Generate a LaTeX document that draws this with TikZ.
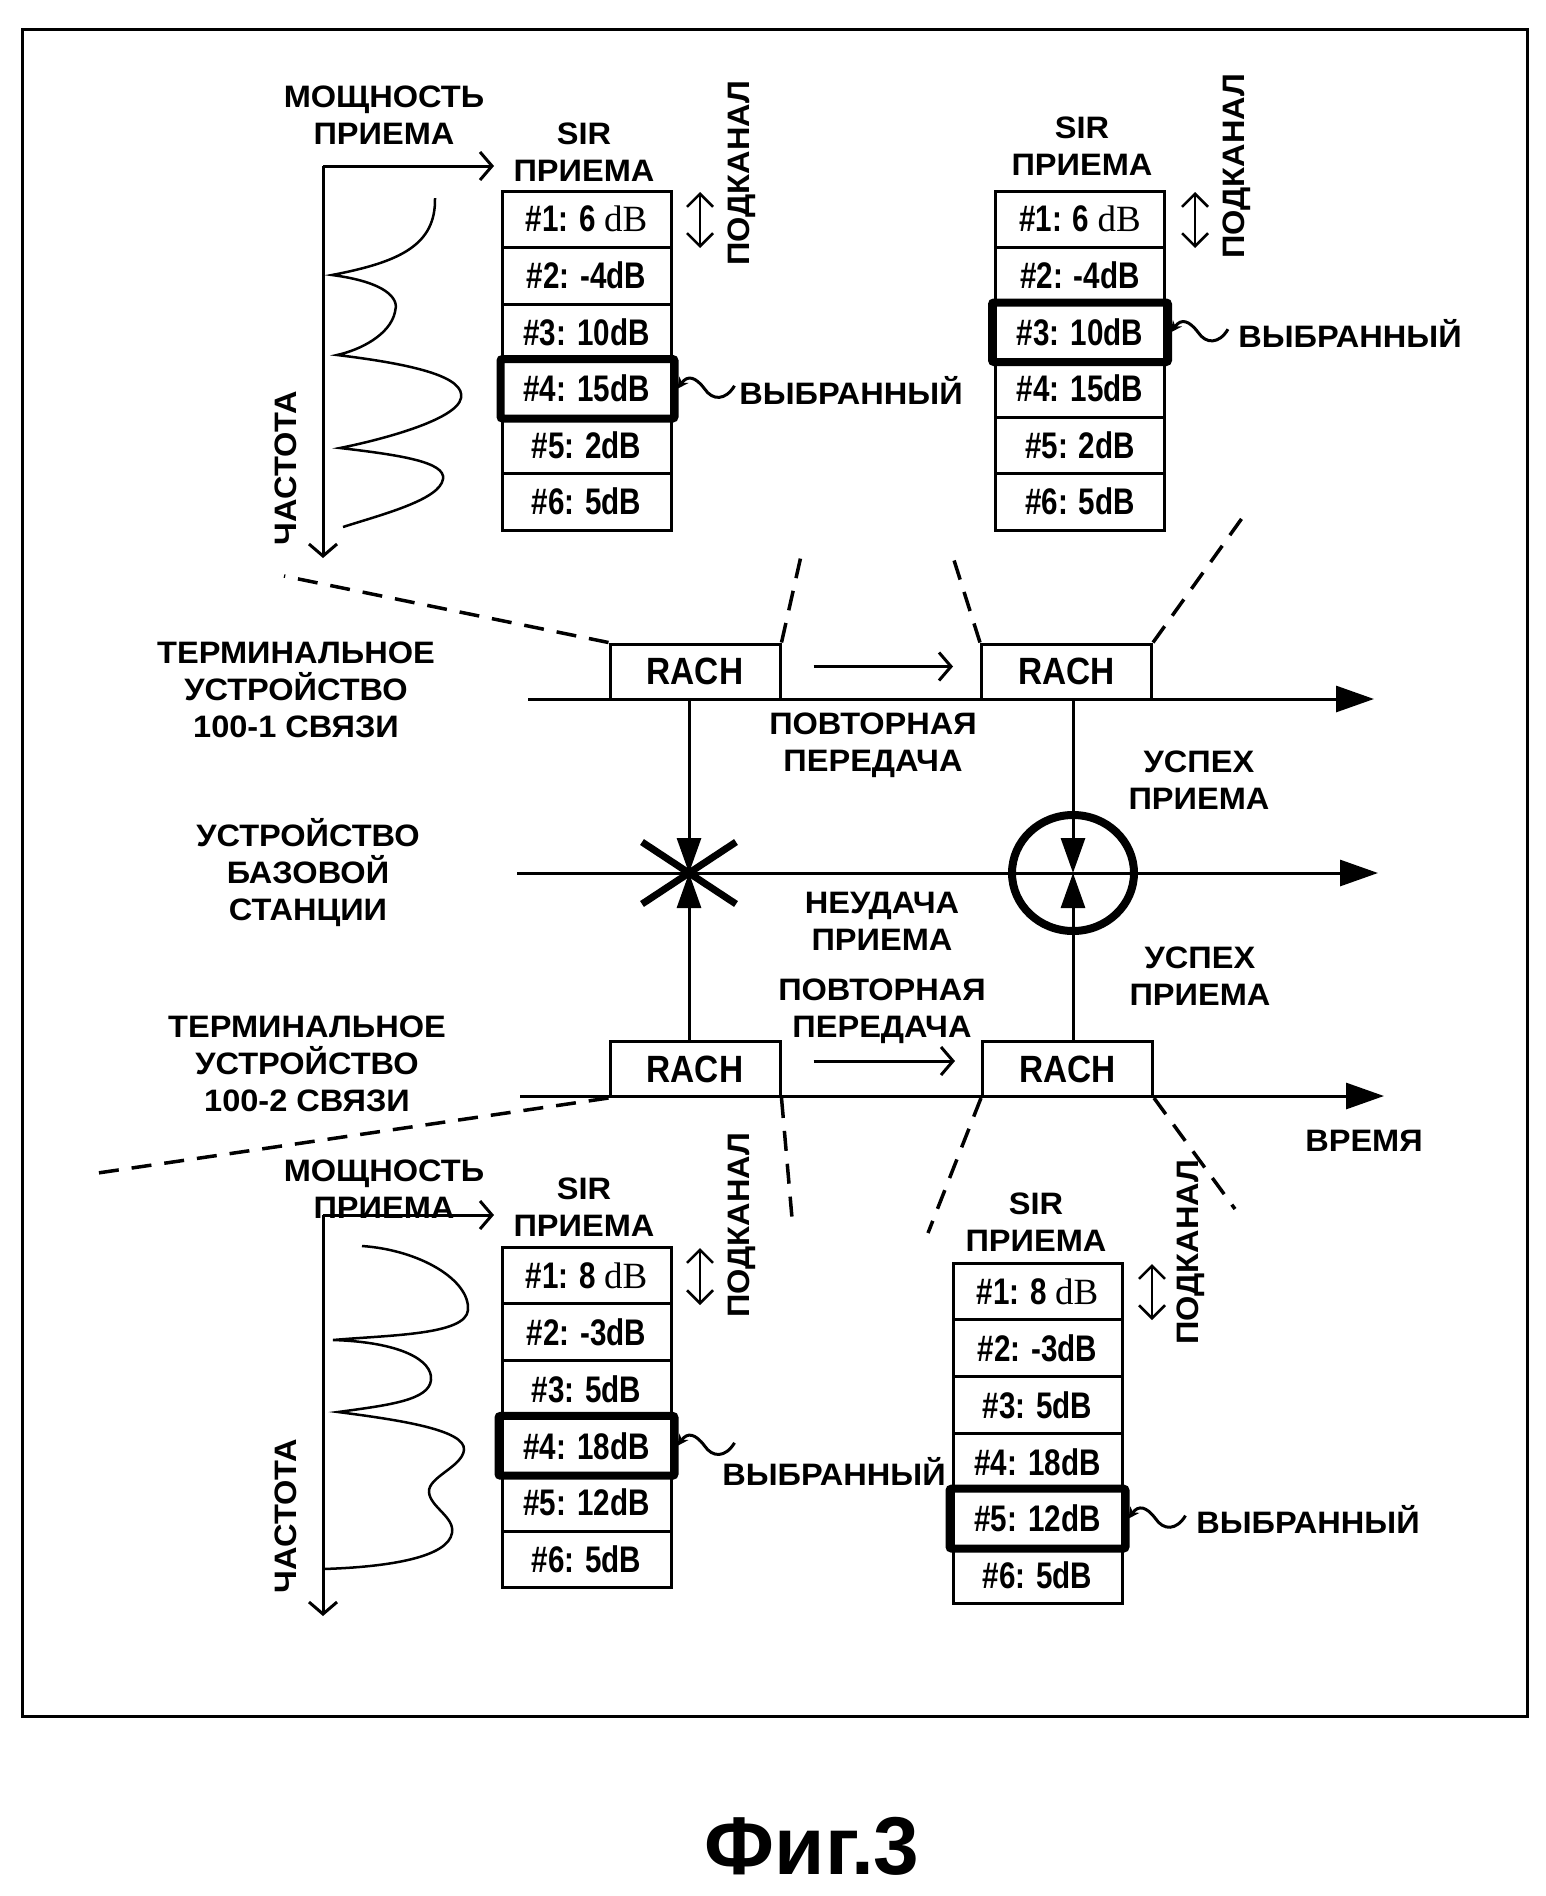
\documentclass[tikz,border=0pt]{standalone}
\usepackage{fontspec}
\setmainfont{Liberation Sans}
\newfontfamily\lblfam[FakeStretch=1.05]{Liberation Sans}
\newfontfamily\rowfam[FakeStretch=0.8]{Liberation Sans}
\newfontfamily\rachfam[FakeStretch=0.88]{Liberation Sans}
\newfontfamily\serfam{Liberation Serif}
\usetikzlibrary{arrows.meta,shapes.geometric,calc}
\tikzset{
  lbl/.style={font=\lblfam\bfseries\fontsize{31}{37}\selectfont, align=center, inner sep=0pt},
  cell/.style={draw, line width=3pt, minimum width=169pt, minimum height=56.5pt, inner sep=0pt,
    font=\rowfam\bfseries\fontsize{37}{40}\selectfont},
  rach/.style={draw, line width=3pt, minimum width=170pt, minimum height=55pt, inner sep=0pt,
    font=\rachfam\bfseries\fontsize{38}{40}\selectfont},
  sel/.style={line width=8pt, rounded corners=2pt},
  dsh/.style={line width=3.5pt, dash pattern=on 20pt off 13pt},
  ln/.style={line width=3pt},
  openarr/.style={-{Straight Barb[length=12pt,width=28pt]}},
  bigtri/.style={-{Triangle[length=38pt,width=26pt]}},
  midtri/.style={-{Triangle[length=35pt,width=24pt]}},
  pics/squig/.style={code={
    \draw[line width=3pt, {Stealth[length=11pt,width=11pt]}-] (0,0) .. controls (10,-14) and (18,-12) .. (27,0) .. controls (35,12) and (48,12) .. (57,-3);
  }}
}
\begin{document}
\begin{tikzpicture}[x=1pt,y=-1pt]
\useasboundingbox (0,0) rectangle (1546,1896);
\draw[line width=3pt] (22,29) rectangle (1527,1716);

% ---------- top-left spectrum ----------
\coordinate (ax1) at (323,166);
\coordinate (ax1r) at (494,166);
\coordinate (ax1d) at (323,558);
\draw[ln,openarr] (ax1) -- (ax1r);
\draw[ln,openarr] (ax1) -- (ax1d);
\draw[line width=2.5pt] (435,198) .. controls (436,245) and (400,262) .. (332,275)
  .. controls (385,282) and (400,298) .. (395,312)
  .. controls (390,335) and (360,350) .. (337,355)
  .. controls (420,365) and (465,378) .. (461,398)
  .. controls (457,420) and (380,440) .. (340,448)
  .. controls (400,455) and (446,462) .. (443,479)
  .. controls (440,500) and (380,515) .. (343,527);
\node[lbl] (mp1) at (384,115) {МОЩНОСТЬ\\ПРИЕМА};
\node[lbl,rotate=90] (fr1) at (286,468) {ЧАСТОТА};

% ---------- top-left table ----------
\node[lbl] (sir1) at (584,152) {SIR\\ПРИЕМА};
\foreach \txt [count=\i] in {{\#1: 6 {\serfam\mdseries dB}},{\#2: -4dB},{\#3: 10dB},{\#4: 15dB},{\#5: 2dB},{\#6: 5dB}}
  \node[cell] (a\i) at (586.5,{191+(\i-0.5)*56.5}) {\txt};
\draw[sel] (a4.north west) rectangle ($(a4.south east)+(2,0)$);
\coordinate (ua1) at (700,192);
\coordinate (ua2) at (700,248);
\draw[line width=2.5pt,{Straight Barb[length=13pt,width=26pt]}-{Straight Barb[length=13pt,width=26pt]}] (ua1) -- (ua2);
\node[lbl,rotate=90] (pk1) at (742,173) {ПОДКАНАЛ};
\pic at ($(a4.east)+(5,0)$) {squig};
\node[lbl] (vy1) at (851,390) {ВЫБРАННЫЙ};

% ---------- top-right table ----------
\node[lbl] (sir2) at (1082,146) {SIR\\ПРИЕМА};
\foreach \txt [count=\i] in {{\#1: 6 {\serfam\mdseries dB}},{\#2: -4dB},{\#3: 10dB},{\#4: 15dB},{\#5: 2dB},{\#6: 5dB}}
  \node[cell] (b\i) at (1080,{191+(\i-0.5)*56.5}) {\txt};
\draw[sel] ($(b3.north west)+(-2,0)$) rectangle ($(b3.south east)+(2,0)$);
\coordinate (ub1) at (1195,192);
\coordinate (ub2) at (1195,248);
\draw[line width=2.5pt,{Straight Barb[length=13pt,width=26pt]}-{Straight Barb[length=13pt,width=26pt]}] (ub1) -- (ub2);
\node[lbl,rotate=90] (pk2) at (1237,166) {ПОДКАНАЛ};
\pic at ($(b3.east)+(5,0)$) {squig};
\node[lbl] (vy2) at (1350,333) {ВЫБРАННЫЙ};

% ---------- time lines ----------
\coordinate (t1s) at (528,699);  \coordinate (t1e) at (1374,699);
\coordinate (bss) at (517,873);  \coordinate (bse) at (1378,873);
\coordinate (t2s) at (520,1096); \coordinate (t2e) at (1384,1096);
\draw[ln,bigtri] (t1s) -- (t1e);
\draw[ln,bigtri] (bss) -- (bse);
\draw[ln,bigtri] (t2s) -- (t2e);

\node[rach] (R1) at (695,671.5) {RACH};
\node[rach] (R2) at (1066.5,671.5) {RACH};
\node[rach] (R3) at (695,1069) {RACH};
\node[rach] (R4) at (1067.5,1069) {RACH};

\draw[ln,openarr] ($(R1.east)+(32,-5)$) -- ($(R2.west)+(-27,-5)$);
\draw[ln,openarr] ($(R3.east)+(32,-8)$) -- ($(R4.west)+(-26,-8)$);

% dashed zoom lines
\coordinate (d1) at (284,576);
\coordinate (d2) at (801,556);
\coordinate (d3) at (953,557);
\coordinate (d4) at (1245,514);
\coordinate (d5) at (91,1174);
\coordinate (d6) at (792,1218);
\coordinate (d7) at (928,1233);
\coordinate (d8) at (1235,1209);
\draw[dsh] (R1.north west) -- (d1);
\draw[dsh] (R1.north east) -- (d2);
\draw[dsh] (R2.north west) -- (d3);
\draw[dsh] (R2.north east) -- (d4);
\draw[dsh] (R3.south west) -- (d5);
\draw[dsh] (R3.south east) -- (d6);
\draw[dsh] (R4.south west) -- (d7);
\draw[dsh] (R4.south east) -- (d8);

% failure / success marks
\coordinate (X) at (689,873);
\node[draw, ellipse, line width=8pt, minimum width=122pt, minimum height=116pt, inner sep=0pt] (C) at (1073,873) {};
\draw[line width=7pt] ($(X)+(-47,-31)$) -- ($(X)+(47,31)$);
\draw[line width=7pt] ($(X)+(-47,31)$) -- ($(X)+(47,-31)$);
\draw[ln,midtri] (X |- R1.south) -- (X);
\draw[ln,midtri] (X |- R3.north) -- (X);
\draw[ln,midtri] (C.center |- R2.south) -- (C.center);
\draw[ln,midtri] (C.center |- R4.north) -- (C.center);

% labels middle
\node[lbl] (t1) at (296,690) {ТЕРМИНАЛЬНОЕ\\УСТРОЙСТВО\\100-1 СВЯЗИ};
\node[lbl] (bs) at (308,873) {УСТРОЙСТВО\\БАЗОВОЙ\\СТАНЦИИ};
\node[lbl] (t2) at (307,1064) {ТЕРМИНАЛЬНОЕ\\УСТРОЙСТВО\\100-2 СВЯЗИ};
\node[lbl] (rt1) at (873,745) {ПОВТОРНАЯ\\ПЕРЕДАЧА};
\node[lbl] (us1) at (1199,780) {УСПЕХ\\ПРИЕМА};
\node[lbl] (nf) at (882,921) {НЕУДАЧА\\ПРИЕМА};
\node[lbl] (us2) at (1200,976) {УСПЕХ\\ПРИЕМА};
\node[lbl] (rt2) at (882,1011) {ПОВТОРНАЯ\\ПЕРЕДАЧА};
\node[lbl] (tm) at (1364,1141) {ВРЕМЯ};

% ---------- bottom-left spectrum ----------
\coordinate (ax2) at (323,1215);
\coordinate (ax2r) at (494,1215);
\coordinate (ax2d) at (323,1616);
\draw[ln,openarr] (ax2) -- (ax2r);
\draw[ln,openarr] (ax2) -- (ax2d);
\draw[line width=2.5pt] (362,1246) .. controls (420,1250) and (470,1280) .. (468,1310)
  .. controls (466,1335) and (390,1335) .. (333,1340)
  .. controls (400,1342) and (433,1360) .. (431,1380)
  .. controls (429,1400) and (390,1405) .. (338,1412)
  .. controls (400,1420) and (466,1430) .. (464,1450)
  .. controls (462,1467) and (428,1477) .. (429,1492)
  .. controls (430,1507) and (455,1517) .. (452,1533)
  .. controls (448,1557) and (390,1567) .. (323,1569);
\node[lbl] (mp2) at (384,1189) {МОЩНОСТЬ\\ПРИЕМА};
\node[lbl,rotate=90] (fr2) at (286,1516) {ЧАСТОТА};

% ---------- bottom-left table ----------
\node[lbl] (sir3) at (584,1207) {SIR\\ПРИЕМА};
\foreach \txt [count=\i] in {{\#1: 8 {\serfam\mdseries dB}},{\#2: -3dB},{\#3: 5dB},{\#4: 18dB},{\#5: 12dB},{\#6: 5dB}}
  \node[cell, minimum height=56.8pt] (c\i) at (586.5,{1247+(\i-0.5)*56.8}) {\txt};
\draw[sel] ($(c4.north west)+(-2,0)$) rectangle ($(c4.south east)+(2,0)$);
\coordinate (uc1) at (700,1248);
\coordinate (uc2) at (700,1305);
\draw[line width=2.5pt,{Straight Barb[length=13pt,width=26pt]}-{Straight Barb[length=13pt,width=26pt]}] (uc1) -- (uc2);
\node[lbl,rotate=90] (pk3) at (742,1225) {ПОДКАНАЛ};
\pic at ($(c4.east)+(5,0)$) {squig};
\node[lbl] (vy3) at (834,1471) {ВЫБРАННЫЙ};

% ---------- bottom-right table ----------
\node[lbl] (sir4) at (1036,1222) {SIR\\ПРИЕМА};
\foreach \txt [count=\i] in {{\#1: 8 {\serfam\mdseries dB}},{\#2: -3dB},{\#3: 5dB},{\#4: 18dB},{\#5: 12dB},{\#6: 5dB}}
  \node[cell, minimum height=56.8pt] (d\i) at (1037.5,{1263+(\i-0.5)*56.8}) {\txt};
\draw[sel] ($(d5.north west)+(-2,0)$) rectangle ($(d5.south east)+(2,0)$);
\coordinate (ud1) at (1152,1264);
\coordinate (ud2) at (1152,1320);
\draw[line width=2.5pt,{Straight Barb[length=13pt,width=26pt]}-{Straight Barb[length=13pt,width=26pt]}] (ud1) -- (ud2);
\node[lbl,rotate=90] (pk4) at (1191,1252) {ПОДКАНАЛ};
\pic at ($(d5.east)+(5,0)$) {squig};
\node[lbl] (vy4) at (1308,1519) {ВЫБРАННЫЙ};

\node[font=\bfseries\fontsize{82}{84}\selectfont, inner sep=0pt] (fig) at (812,1846) {Фиг.3};
\end{tikzpicture}
\end{document}
